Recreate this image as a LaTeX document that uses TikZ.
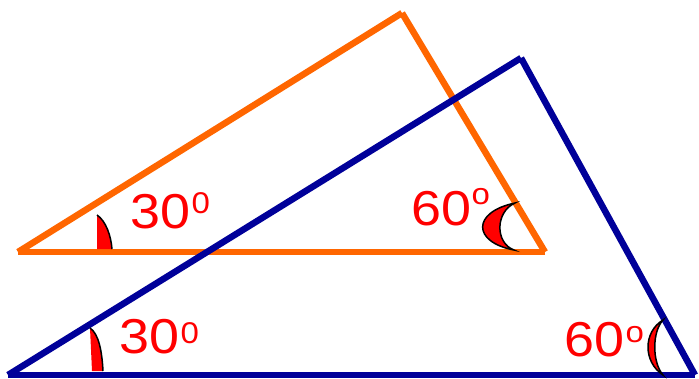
\documentclass[tikz,border=0pt]{standalone}
\usepackage{fontspec}
\setmainfont{Liberation Sans}
\newfontfamily\degfont[FakeStretch=1.1]{Liberation Sans}
\usetikzlibrary{calc,positioning}
\definecolor{sideorange}{RGB}{255,102,0}
\definecolor{sideblue}{RGB}{0,0,153}

\begin{document}
\begin{tikzpicture}[x=1pt, y=-1pt,
  oside/.style={sideorange, line width=6.5pt},
  bside/.style={sideblue, line width=6.5pt},
  markline/.style={black, line width=1.5pt},
  deg/.style={red, inner sep=0pt, anchor=base west, font=\degfont\fontsize{49}{49}\selectfont},
  degsup/.style={red, inner sep=0pt, anchor=base west, font=\degfont\fontsize{30}{30}\selectfont}]
  \useasboundingbox (0,0) rectangle (699,378);

  % orange triangle
  \coordinate (oL) at (18,252);
  \coordinate (oT) at (402,13);
  \coordinate (oR) at (545,252);
  \draw[oside] (oL) -- (oT);
  \draw[oside] (oT) -- (oR);
  \draw[oside] (oR) -- (oL);

  % blue triangle
  \coordinate (bL) at (8,375);
  \coordinate (bT) at (521,58);
  \coordinate (bR) at (695,375);
  \draw[bside] (bL) -- (bT);
  \draw[bside] (bT) -- (bR);
  \draw[bside] (bR) -- (bL);

  % 30 degree marks
  \fill[red] (97,249) -- (97,215) .. controls (106,221) and (111,236) .. (112,249) -- cycle;
  \draw[markline] (97,215) .. controls (106,221) and (111,236) .. (112,249);
  \fill[red] (92,371) -- (90,328) .. controls (99,334) and (102,352) .. (103,371) -- cycle;
  \draw[markline] (90,328) .. controls (99,334) and (102,352) .. (103,371);

  % 60 degree marks
  \filldraw[markline, fill=red] (515,203) .. controls (472,212) and (472,242) .. (514,250)
    .. controls (495,243) and (495,212) .. (515,203) -- cycle;
  \filldraw[markline, fill=red] (663,320) .. controls (643,332) and (643,362) .. (663,375)
    .. controls (652,362) and (652,332) .. (663,320) -- cycle;

  % labels, small signs placed after the numbers
  \node[deg] (o30) at (130,228) {30};
  \node[degsup] (o30s) at ($(o30.base east)+(1,-15)$) {0};
  \node[deg] (o60) at (411,225) {60};
  \node[degsup] (o60s) at ($(o60.base east)+(0,-21)$) {o};
  \node[deg] (b30) at (119,353) {30};
  \node[degsup] (b30s) at ($(b30.base east)+(1,-10)$) {0};
  \node[deg] (b60) at (564,356) {60};
  \node[degsup] (b60s) at ($(b60.base east)+(1,-14)$) {o};
\end{tikzpicture}
\end{document}
